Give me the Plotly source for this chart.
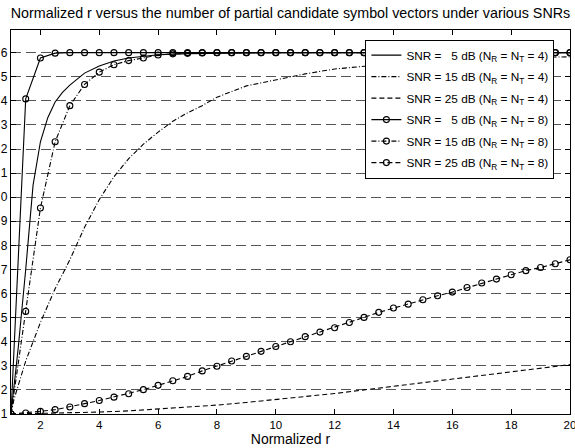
import plotly.graph_objects as go

# ---- data ----
x_marked = [1, 1.5, 2, 2.5, 3, 3.5, 4, 4.5, 5, 5.5, 6, 6.5, 7, 7.5, 8, 8.5, 9, 9.5, 10,
            10.5, 11, 11.5, 12, 12.5, 13, 13.5, 14, 14.5, 15, 15.5, 16, 16.5, 17, 17.5,
            18, 18.5, 19, 19.5, 20]

x_snr5_n4 = [1, 1.25, 1.5, 1.75, 2, 2.25, 2.5, 2.75, 3, 3.5, 4, 4.5, 5, 5.5, 6, 7, 8, 9,
             10, 12, 14, 16, 18, 20]
y_snr5_n4 = [1, 3.8, 7.0, 10.5, 12.3, 13.3, 13.95, 14.35, 14.65, 15.15, 15.45, 15.65,
             15.78, 15.86, 15.91, 15.96, 15.98, 16, 16, 16, 16, 16, 16, 16]

x_snr15_n4 = [1, 1.1, 1.25, 1.5, 1.75, 2, 2.5, 3, 3.5, 4, 4.5, 5, 5.5, 6, 6.5, 7, 7.5, 8,
              9, 10, 11, 12, 13, 14, 15, 16, 17, 18, 19, 20]
y_snr15_n4 = [1, 1.6, 2.2, 3.2, 4.0, 4.8, 6.2, 7.4, 8.75, 9.9, 10.85, 11.6, 12.2, 12.7,
              13.15, 13.5, 13.8, 14.15, 14.62, 14.88, 15.12, 15.32, 15.45, 15.55, 15.63,
              15.68, 15.73, 15.77, 15.8, 15.83]

x_snr25_n4 = [1, 2, 3, 4, 5, 6, 7, 8, 9, 10, 11, 12, 13, 14, 15, 16, 17, 18, 19, 20]
y_snr25_n4 = [1, 1.02, 1.05, 1.08, 1.13, 1.2, 1.28, 1.37, 1.48, 1.6, 1.72, 1.85, 2.0,
              2.15, 2.3, 2.45, 2.6, 2.75, 2.9, 3.05]

y_snr5_n8 = [1, 14.08, 15.78, 15.98, 16, 16, 16, 16, 16, 16, 16, 16, 16, 16, 16, 16, 16,
             16, 16, 16, 16, 16, 16, 16, 16, 16, 16, 16, 16, 16, 16, 16, 16, 16, 16, 16,
             16, 16, 16]
y_snr15_n8 = [1, 5.26, 9.55, 12.3, 13.8, 14.68, 15.19, 15.5, 15.67, 15.78, 15.9, 15.95,
              15.97, 15.99, 16, 16, 16, 16, 16, 16, 16, 16, 16, 16, 16, 16, 16, 16, 16,
              16, 16, 16, 16, 16, 16, 16, 16, 16, 16]
y_snr25_n8 = [1, 1.04, 1.11, 1.18, 1.29, 1.43, 1.56, 1.7, 1.84, 2.01, 2.19, 2.38, 2.56,
              2.79, 2.98, 3.2, 3.39, 3.6, 3.8, 4.0, 4.21, 4.4, 4.58, 4.8, 5.01, 5.22, 5.4,
              5.56, 5.74, 5.91, 6.06, 6.25, 6.44, 6.6, 6.78, 6.95, 7.08, 7.24, 7.4]

names = [
    "SNR = \u20075 dB (N<sub>R</sub> = N<sub>T</sub> = 4)",
    "SNR = 15 dB (N<sub>R</sub> = N<sub>T</sub> = 4)",
    "SNR = 25 dB (N<sub>R</sub> = N<sub>T</sub> = 4)",
    "SNR = \u20075 dB (N<sub>R</sub> = N<sub>T</sub> = 8)",
    "SNR = 15 dB (N<sub>R</sub> = N<sub>T</sub> = 8)",
    "SNR = 25 dB (N<sub>R</sub> = N<sub>T</sub> = 8)",
]

x_ticks = [2, 4, 6, 8, 10, 12, 14, 16, 18, 20]
x_ticktext = ["2", "4", "6", "8", "10", "12", "14", "16", "18", "20"]
y_ticks = [1, 2, 3, 4, 5, 6, 7, 8, 9, 10, 11, 12, 13, 14, 15, 16]
# the reference shows only the last digit of each y tick label (left edge cut)
y_ticktext = ["1", "2", "3", "4", "5", "6", "7", "8", "9", "0", "1", "2", "3", "4", "5", "6"]

title_text = "Normalized r versus the number of partial candidate symbol vectors under various SNRs"
x_title = "Normalized r"

# ---- styles ----
FONT = "Liberation Sans, Arial, sans-serif"
DASH = "5px,3px"
DASHDOT = "5px,2px,1px,2px"
LW = 1.1

fig = go.Figure()
fig.add_trace(go.Scatter(x=x_snr5_n4, y=y_snr5_n4, mode="lines", name=names[0],
                         legendgroup="a", line=dict(color="black", width=LW)))
fig.add_trace(go.Scatter(x=x_snr15_n4, y=y_snr15_n4, mode="lines", name=names[1],
                         legendgroup="b", line=dict(color="black", width=LW, dash=DASHDOT)))
fig.add_trace(go.Scatter(x=x_snr25_n4, y=y_snr25_n4, mode="lines", name=names[2],
                         legendgroup="c", line=dict(color="black", width=LW, dash=DASH)))
mk = dict(symbol="circle-open", size=6, color="black", line=dict(width=1.1, color="black"))
fig.add_trace(go.Scatter(x=x_marked, y=y_snr5_n8, mode="lines+markers", name=names[3],
                         legendgroup="d", line=dict(color="black", width=LW), marker=mk))
fig.add_trace(go.Scatter(x=x_marked, y=y_snr15_n8, mode="lines+markers", name=names[4],
                         legendgroup="e", line=dict(color="black", width=LW, dash=DASHDOT),
                         marker=mk))
fig.add_trace(go.Scatter(x=x_marked, y=y_snr25_n8, mode="lines+markers", name=names[5],
                         legendgroup="f", line=dict(color="black", width=LW, dash=DASH),
                         marker=mk))

fig.update_layout(
    width=575, height=448,
    margin=dict(l=11, r=5, t=30, b=34),
    paper_bgcolor="white", plot_bgcolor="white",
    font=dict(family=FONT, size=12, color="black"),
    title=dict(text=title_text, x=0.5, xref="paper", xanchor="center",
               y=1 - 13 / 448, yref="container", yanchor="middle",
               font=dict(family=FONT, size=14.3, color="black")),
    showlegend=True,
    legend=dict(x=0.634, y=0.975, xanchor="left", yanchor="top",
                bgcolor="white", bordercolor="black", borderwidth=1,
                font=dict(family=FONT, size=11.8, color="black"),
                tracegroupgap=2.5, itemwidth=30),
    xaxis=dict(range=[1, 20], tickvals=x_ticks, ticktext=x_ticktext,
               ticks="inside", ticklen=5, tickcolor="black", mirror="ticks",
               showline=True, linecolor="black", linewidth=1.2,
               showgrid=False, zeroline=False, automargin=False,
               ticklabeloverflow="allow",
               tickfont=dict(family=FONT, size=11.5, color="black"),
               title=dict(text=x_title, standoff=2,
                          font=dict(family=FONT, size=14, color="black"))),
    yaxis=dict(range=[1, 16.94], tickvals=y_ticks, ticktext=y_ticktext,
               ticks="inside", ticklen=5, tickcolor="black", mirror="ticks",
               showline=True, linecolor="black", linewidth=1.2,
               showgrid=True, gridcolor="#555555", gridwidth=1, griddash="10px,5px",
               zeroline=False, automargin=False, ticklabelstandoff=0,
               tickfont=dict(family=FONT, size=12, color="black")),
)

fig.write_html("out.html", config={"displayModeBar": False},
               post_script="document.body.style.margin='0';")
